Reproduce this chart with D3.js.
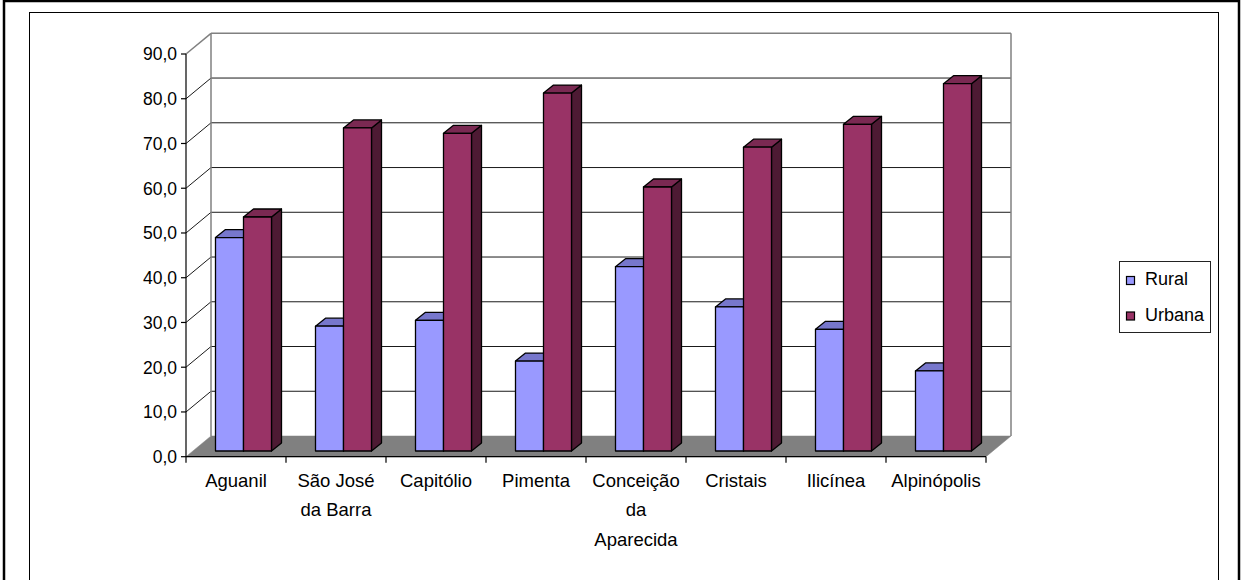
<!DOCTYPE html>
<html>
<head>
<meta charset="utf-8">
<script src="https://cdn.jsdelivr.net/npm/d3@7"></script>
<style>
  html, body { margin: 0; padding: 0; background: #fff; }
  svg { display: block; }
  text { font-family: "Liberation Sans", Arial, sans-serif; fill: #000; }
</style>
</head>
<body>
<svg id="chart" width="1243" height="580"></svg>
<script>
// ---- data ----
const categories = ["Aguanil", "São José da Barra", "Capitólio", "Pimenta", "Conceição da Aparecida", "Cristais", "Ilicínea", "Alpinópolis"];
const categoryLines = [["Aguanil"], ["São José", "da Barra"], ["Capitólio"], ["Pimenta"], ["Conceição", "da", "Aparecida"], ["Cristais"], ["Ilicínea"], ["Alpinópolis"]];
const seriesNames = ["Rural", "Urbana"];
const rural = [47.7, 27.9, 29.2, 20.1, 41.2, 32.2, 27.2, 17.9];
const urbana = [52.3, 72.2, 71.0, 80.0, 59.0, 67.9, 73.0, 82.1];
const yTicks = [0, 10, 20, 30, 40, 50, 60, 70, 80, 90];

// ---- styles ----
const colors = {
  Rural: { front: "#9999FF", top: "#7777CC", side: "#4D4D80" },
  Urbana: { front: "#993366", top: "#7A2952", side: "#4D1A33" }
};

const svg = d3.select("#chart");

// frames
svg.append("rect").attr("x", 4).attr("y", 1).attr("width", 1235).attr("height", 600)
  .attr("fill", "none").attr("stroke", "#000").attr("stroke-width", 2.5);
svg.append("rect").attr("x", 29.5).attr("y", 12.5).attr("width", 1189).attr("height", 600)
  .attr("fill", "none").attr("stroke", "#000").attr("stroke-width", 1);

// scales
const x0 = d3.scaleBand().domain(categories).range([186, 986]).paddingInner(0).paddingOuter(0);
const x1 = d3.scaleBand().domain(seriesNames).range([22.5, 78.5]);
const y = d3.scaleLinear().domain([0, 90]).range([456.7, 54]);

// 3D offsets
const DX = 25, DY = -20.7;      // wall depth
const BX = 7, BY = -5.7;        // bar front plane offset
const bdx = 10, bdy = -8;       // bar depth

const [xL, xR] = x0.range();
const pt = p => p.map(d => d.join(",")).join(" ");

// back wall
svg.append("polygon")
  .attr("points", pt([[xL + DX, y(90) + DY], [xR + DX, y(90) + DY], [xR + DX, y(0) + DY], [xL + DX, y(0) + DY]]))
  .attr("fill", "#fff").attr("stroke", "none");

// gridlines on back wall and side wall
const grid = svg.append("g");
yTicks.forEach(t => {
  if (t === 0) return;
  const yy = y(t);
  grid.append("line")
    .attr("x1", xL + DX).attr("x2", xR + DX).attr("y1", yy + DY).attr("y2", yy + DY)
    .attr("stroke", t === 90 ? "#808080" : "#1a1a1a").attr("stroke-width", t === 90 ? 1.5 : 1);
  grid.append("line")
    .attr("x1", xL).attr("x2", xL + DX).attr("y1", yy).attr("y2", yy + DY)
    .attr("stroke", t === 90 ? "#808080" : "#1a1a1a").attr("stroke-width", t === 90 ? 1.5 : 1);
});
// wall edges
svg.append("line").attr("x1", xL + DX).attr("x2", xL + DX).attr("y1", y(90) + DY).attr("y2", y(0) + DY)
  .attr("stroke", "#808080").attr("stroke-width", 1.5);
svg.append("line").attr("x1", xR + DX).attr("x2", xR + DX).attr("y1", y(90) + DY).attr("y2", y(0) + DY)
  .attr("stroke", "#808080").attr("stroke-width", 1.5);

// floor
svg.append("polygon")
  .attr("points", pt([[xL, y(0)], [xR, y(0)], [xR + DX, y(0) + DY], [xL + DX, y(0) + DY]]))
  .attr("fill", "#808080").attr("stroke", "#808080").attr("stroke-width", 0.5);

// bars
const barData = [];
categories.forEach((c, i) => {
  barData.push({ cat: c, series: "Rural", value: rural[i] });
  barData.push({ cat: c, series: "Urbana", value: urbana[i] });
});
const bars = svg.append("g");
barData.forEach(d => {
  const xa = x0(d.cat) + x1(d.series) + BX;
  const w = x1.bandwidth();
  const yb = y(0) + BY;
  const yt = y(d.value) + BY;
  const col = colors[d.series];
  const g = bars.append("g").attr("stroke", "#000").attr("stroke-width", 1.3).attr("stroke-linejoin", "round");
  g.append("polygon").attr("points", pt([[xa + w, yt], [xa + w + bdx, yt + bdy], [xa + w + bdx, yb + bdy], [xa + w, yb]]))
    .attr("fill", col.side);
  g.append("polygon").attr("points", pt([[xa, yt], [xa + bdx, yt + bdy], [xa + w + bdx, yt + bdy], [xa + w, yt]]))
    .attr("fill", col.top);
  g.append("rect").attr("x", xa).attr("y", yt).attr("width", w).attr("height", yb - yt)
    .attr("fill", col.front);
});

// y axis
const yAxisG = svg.append("g");
yAxisG.append("line").attr("x1", xL).attr("x2", xL).attr("y1", y(90)).attr("y2", y(0))
  .attr("stroke", "#000").attr("stroke-width", 1.2);
yTicks.forEach(t => {
  yAxisG.append("line").attr("x1", xL - 5).attr("x2", xL).attr("y1", y(t)).attr("y2", y(t))
    .attr("stroke", "#000").attr("stroke-width", 1.2);
  yAxisG.append("text").attr("x", xL - 9).attr("y", y(t)).attr("dy", "0.36em")
    .attr("text-anchor", "end").attr("font-size", 17.5)
    .text(d3.format(".1f")(t).replace(".", ","));
});

// x axis
const xAxisG = svg.append("g");
xAxisG.append("line").attr("x1", xL).attr("x2", xR).attr("y1", y(0)).attr("y2", y(0))
  .attr("stroke", "#000").attr("stroke-width", 1.2);
const tickPos = categories.map(c => x0(c)).concat([xR]);
tickPos.forEach(tx => {
  xAxisG.append("line").attr("x1", tx).attr("x2", tx).attr("y1", y(0)).attr("y2", y(0) + 6)
    .attr("stroke", "#000").attr("stroke-width", 1.2);
});
categories.forEach((c, i) => {
  const cx = x0(c) + x0.bandwidth() / 2;
  categoryLines[i].forEach((line, j) => {
    xAxisG.append("text").attr("x", cx).attr("y", 487 + j * 29.3)
      .attr("text-anchor", "middle").attr("font-size", 18.5).text(line);
  });
});

// legend
const lg = svg.append("g");
lg.append("rect").attr("x", 1119.5).attr("y", 261.5).attr("width", 91).attr("height", 71)
  .attr("fill", "#fff").attr("stroke", "#222").attr("stroke-width", 1);
seriesNames.forEach((s, i) => {
  const yy = 276.5 + i * 35.5;
  lg.append("rect").attr("x", 1126.5).attr("y", yy).attr("width", 8).attr("height", 8)
    .attr("fill", colors[s].front).attr("stroke", "#000").attr("stroke-width", 1.2);
  lg.append("text").attr("x", 1145).attr("y", yy + 8.5).attr("font-size", 18).text(s);
});
</script>
</body>
</html>
